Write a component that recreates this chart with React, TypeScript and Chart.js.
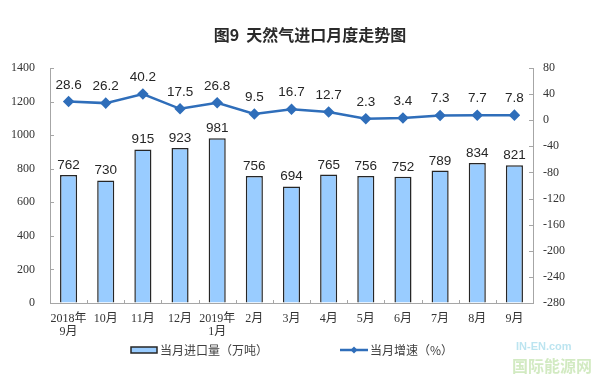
import React, { useEffect, useRef } from "react";
import { Chart, registerables } from "chart.js";

Chart.register(...registerables);

const categories: (string | string[])[] = [
  ["2018年", "9月"], "10月", "11月", "12月", ["2019年", "1月"], "2月", "3月",
  "4月", "5月", "6月", "7月", "8月", "9月",
];
const importVolume = [762, 730, 915, 923, 981, 756, 694, 765, 756, 752, 789, 834, 821];
const growthRate = [28.6, 26.2, 40.2, 17.5, 26.8, 9.5, 16.7, 12.7, 2.3, 3.4, 7.3, 7.7, 7.8];
const leftTicks = { min: 0, max: 1400, step: 200 };
const rightTicks = { min: -280, max: 80, step: 40 };
const titleText = "图9  天然气进口月度走势图";
const barLabel = "当月进口量（万吨）";
const lineLabel = "当月增速（%）";

const BAR_FILL = "#99CCFF";
const BAR_BORDER = "#262626";
const LINE_COLOR = "#2F6EBA";
const AXIS_COLOR = "#A6A6A6";
const CJK = '"Noto Sans CJK SC", "Liberation Sans", sans-serif';
const SERIF = '"Liberation Serif", "Noto Sans CJK SC", serif';

const decorPlugin = {
  id: "decor",
  afterDatasetsDraw(chart: any) {
    const ctx = chart.ctx as CanvasRenderingContext2D;
    ctx.save();
    // data labels
    ctx.font = '13.5px "Liberation Sans", Arial, sans-serif';
    ctx.fillStyle = "#262626";
    ctx.textAlign = "center";
    ctx.textBaseline = "bottom";
    const barMeta = chart.getDatasetMeta(0);
    barMeta.data.forEach((el: any, i: number) => {
      ctx.fillText(String(importVolume[i]), el.x, el.y - 3);
    });
    const lineMeta = chart.getDatasetMeta(1);
    lineMeta.data.forEach((el: any, i: number) => {
      ctx.fillText(growthRate[i].toFixed(1), el.x, el.y - 10);
    });

    // inward tick marks
    const area = chart.chartArea;
    ctx.strokeStyle = AXIS_COLOR;
    ctx.lineWidth = 1;
    const y = chart.scales.y;
    y.ticks.forEach((_t: any, i: number) => {
      const py = Math.round(y.getPixelForTick(i)) + 0.5;
      ctx.beginPath();
      ctx.moveTo(area.left, py);
      ctx.lineTo(area.left + 4, py);
      ctx.stroke();
    });
    const y1 = chart.scales.y1;
    y1.ticks.forEach((_t: any, i: number) => {
      const py = Math.round(y1.getPixelForTick(i)) + 0.5;
      ctx.beginPath();
      ctx.moveTo(area.right - 4, py);
      ctx.lineTo(area.right, py);
      ctx.stroke();
    });
    const n = categories.length;
    const w = (area.right - area.left) / n;
    for (let i = 1; i < n; i++) {
      const px = Math.round(area.left + i * w) + 0.5;
      ctx.beginPath();
      ctx.moveTo(px, area.bottom);
      ctx.lineTo(px, area.bottom - 3);
      ctx.stroke();
    }

    // title
    ctx.font = `bold 16px ${CJK}`;
    ctx.fillStyle = "#2a2a2a";
    ctx.textAlign = "center";
    ctx.textBaseline = "middle";
    ctx.fillText(titleText, 310, 35);

    // legend
    const ly = 350;
    ctx.fillStyle = BAR_FILL;
    ctx.strokeStyle = BAR_BORDER;
    ctx.lineWidth = 1.5;
    ctx.fillRect(131, ly - 3, 26, 6);
    ctx.strokeRect(131, ly - 3, 26, 6);
    ctx.font = `12px ${CJK}`;
    ctx.fillStyle = "#404040";
    ctx.textAlign = "left";
    ctx.fillText(barLabel, 160, ly);

    ctx.strokeStyle = LINE_COLOR;
    ctx.lineWidth = 2.5;
    ctx.beginPath();
    ctx.moveTo(340, ly);
    ctx.lineTo(368, ly);
    ctx.stroke();
    ctx.fillStyle = LINE_COLOR;
    ctx.beginPath();
    ctx.moveTo(354, ly - 3.5);
    ctx.lineTo(357.5, ly);
    ctx.lineTo(354, ly + 3.5);
    ctx.lineTo(350.5, ly);
    ctx.closePath();
    ctx.fill();
    ctx.fillStyle = "#404040";
    ctx.fillText(lineLabel, 370, ly);
    ctx.restore();
  },
};

export default function App() {
  const ref = useRef<HTMLCanvasElement>(null);
  useEffect(() => {
    document.body.style.margin = "0";
    const canvas = ref.current!;
    const chart = new Chart(canvas, {
      type: "bar",
      data: {
        labels: categories as any,
        datasets: [
          {
            type: "bar",
            label: barLabel,
            data: importVolume,
            yAxisID: "y",
            backgroundColor: BAR_FILL,
            borderColor: BAR_BORDER,
            borderWidth: 1.5,
            barPercentage: 0.46,
            categoryPercentage: 1,
            order: 2,
          },
          {
            type: "line",
            label: lineLabel,
            data: growthRate,
            yAxisID: "y1",
            borderColor: LINE_COLOR,
            backgroundColor: LINE_COLOR,
            borderWidth: 2.5,
            pointStyle: "rectRot",
            pointRadius: 4,
            pointBackgroundColor: LINE_COLOR,
            pointBorderColor: LINE_COLOR,
            tension: 0,
            order: 1,
          } as any,
        ],
      },
      options: {
        responsive: false,
        animation: false,
        layout: { padding: { top: 68, left: 0, right: 0, bottom: 0 } },
        plugins: {
          legend: { display: false },
          title: { display: false },
          tooltip: { enabled: false },
        },
        scales: {
          x: {
            offset: true,
            grid: { drawOnChartArea: false, drawTicks: false },
            border: { color: AXIS_COLOR, width: 1 },
            ticks: {
              color: "#333",
              font: { family: SERIF, size: 12, lineHeight: 1.1 },
              padding: 9,
              maxRotation: 0,
              autoSkip: false,
            },
            afterFit(scale: any) {
              scale.height = 75;
            },
          },
          y: {
            position: "left",
            min: leftTicks.min,
            max: leftTicks.max,
            grid: { drawOnChartArea: false, drawTicks: false },
            border: { color: AXIS_COLOR, width: 1 },
            ticks: {
              stepSize: leftTicks.step,
              color: "#333",
              font: { family: SERIF, size: 12 },
              padding: 15,
              callback: (v: any) => String(v),
            },
            afterFit(scale: any) {
              scale.width = 50;
            },
          },
          y1: {
            position: "right",
            min: rightTicks.min,
            max: rightTicks.max,
            grid: { drawOnChartArea: false, drawTicks: false },
            border: { color: AXIS_COLOR, width: 1 },
            ticks: {
              stepSize: rightTicks.step,
              color: "#333",
              font: { family: SERIF, size: 12 },
              padding: 10,
              callback: (v: any) => String(v),
            },
            afterFit(scale: any) {
              scale.width = 67;
            },
          },
        },
      },
      plugins: [decorPlugin],
    });
    return () => chart.destroy();
  }, []);

  return (
    <div style={{ position: "relative", width: 600, height: 378, background: "#fff" }}>
      <canvas ref={ref} width={600} height={378} style={{ display: "block" }} />
      <div
        style={{
          position: "absolute",
          left: 516,
          top: 340,
          fontFamily: '"Liberation Sans", sans-serif',
          fontWeight: "bold",
          fontSize: 11,
          color: "#8fd3e6",
          opacity: 0.6,
        }}
      >
        IN-EN.com
      </div>
      <div
        style={{
          position: "absolute",
          left: 512,
          top: 353,
          fontFamily: CJK,
          fontWeight: "bold",
          fontSize: 16,
          color: "#b5dd9a",
          opacity: 0.6,
          whiteSpace: "nowrap",
        }}
      >
        国际能源网
      </div>
    </div>
  );
}
